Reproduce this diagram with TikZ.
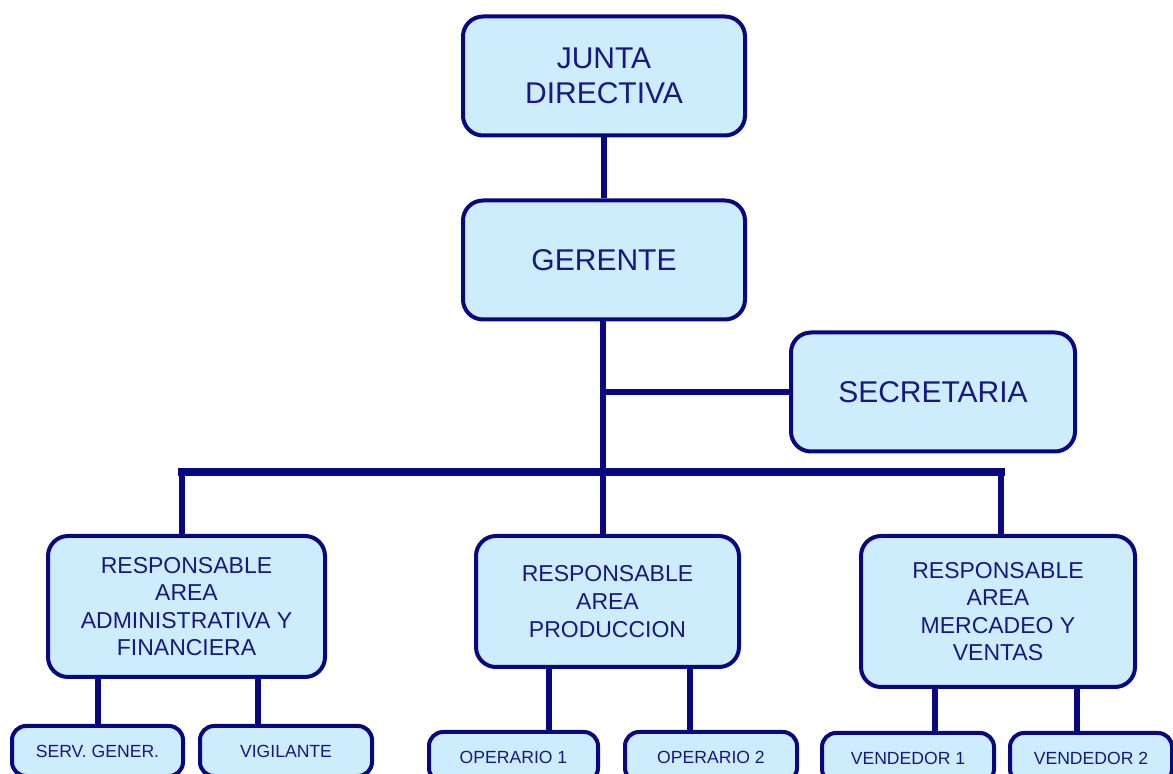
\documentclass[tikz,border=0pt]{standalone}
\usepackage{fontspec}
\setmainfont{Liberation Sans}
\usepackage{xcolor}
\usepackage{tikz}
\usetikzlibrary{positioning, calc}
\definecolor{cnavy}{RGB}{8,8,128}
\definecolor{ctext}{RGB}{24,24,130}
\definecolor{cfill}{RGB}{205,236,252}

\begin{document}
\begin{tikzpicture}[
  x=0.5pt, y=-0.5pt,
  unit/.style   = {rectangle, rounded corners=10pt, draw=cnavy, line width=2pt,
                   fill=cfill, text=ctext, align=center, inner sep=0pt},
  topbox/.style = {unit, minimum width=141pt, minimum height=59.5pt,
                   font=\fontsize{15}{17.5}\selectfont},
  midbox/.style = {unit, minimum width=#1, font=\fontsize{11.5}{13.8}\selectfont},
  lowbox/.style = {unit, rounded corners=7pt, minimum width=#1, minimum height=25pt,
                   font=\fontsize{8.8}{10}\selectfont},
  conn/.style   = {cnavy, line width=2.8pt},
  bar/.style    = {cnavy, line width=3.6pt, line cap=rect},
]
\useasboundingbox (0,0) rectangle (1173,774);
\clip (0,0) rectangle (1173,774);
% Top: board and manager
\node[topbox] (junta)   at (604,76)  {JUNTA\\DIRECTIVA};
\node[topbox] (gerente) at (604,260) {GERENTE};
\node[topbox, minimum width=142pt] (secre) at (933,392) {SECRETARIA};
% Middle: area heads
\node[midbox=138.5pt, minimum height=70.5pt] (adm)  at (186.5,606.5)
  {RESPONSABLE\\AREA\\ADMINISTRATIVA Y\\FINANCIERA};
\node[midbox=131.5pt, minimum height=65.5pt] (prod) at (607.5,601.5)
  {RESPONSABLE\\AREA\\PRODUCCION};
\node[midbox=137pt, minimum height=75.5pt]   (merc) at (998,611.5)
  {RESPONSABLE\\AREA\\MERCADEO Y\\VENTAS};
% Bottom: staff
\node[lowbox=85.5pt] (serv) at (97.5,751)  {SERV. GENER.};
\node[lowbox=86pt]   (vig)  at (286,751)   {VIGILANTE};
\node[lowbox=84.5pt] (op1)  at (513.5,757) {OPERARIO 1};
\node[lowbox=86pt]   (op2)  at (711,757)   {OPERARIO 2};
\node[lowbox=86pt]   (ven1) at (908,758)   {VENDEDOR 1};
\node[lowbox=81pt]   (ven2) at (1091,758)  {VENDEDOR 2};
% Bar joints
\coordinate (barL) at (182,472);
\coordinate (barM) at (603,472);
\coordinate (barR) at (1001,472);
% Connectors
\draw[conn] (junta) -- (gerente);
\draw[conn] (gerente.south -| barM) -- (barM |- prod.north);
\draw[conn] (secre.west) -- (secre.west -| barM);
\draw[bar]  (barL) -- (barR);
\draw[conn] (barL) -- (barL |- adm.north);
\draw[conn] (barR) -- (barR |- merc.north);
\draw[conn] ([xshift=0.25pt]serv.north) -- ([xshift=0.25pt]serv.north |- adm.south);
\draw[conn] ([xshift=-14pt]vig.north)   -- ([xshift=-14pt]vig.north |- adm.south);
\draw[conn] ([xshift=17.75pt]op1.north) -- ([xshift=17.75pt]op1.north |- prod.south);
\draw[conn] ([xshift=-10.5pt]op2.north) -- ([xshift=-10.5pt]op2.north |- prod.south);
\draw[conn] ([xshift=13.5pt]ven1.north) -- ([xshift=13.5pt]ven1.north |- merc.south);
\draw[conn] ([xshift=-7pt]ven2.north)   -- ([xshift=-7pt]ven2.north |- merc.south);
\end{tikzpicture}
\end{document}
